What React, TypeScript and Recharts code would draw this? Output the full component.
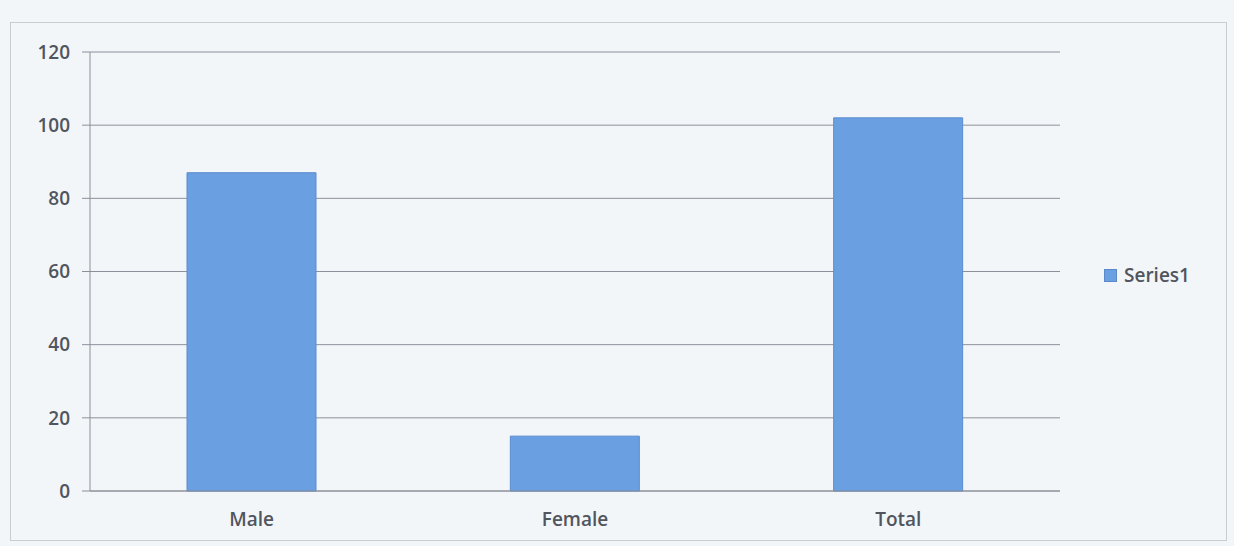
import { BarChart, Bar, XAxis, YAxis, CartesianGrid } from 'recharts';

const categories = ['Male', 'Female', 'Total'];
const series1 = [87, 15, 102];
const yTicks = [0, 20, 40, 60, 80, 100, 120];

const data = categories.map((name, i) => ({ name, Series1: series1[i] }));

const textColor = '#50555e';
const gridColor = '#8c9099';
const barColor = '#6a9fe2';
const font = '"Open Sans", sans-serif';

// legend drawn outside the chart so it doesn't shrink the plot area
const LegendBox = () => (
   <div
      style={{
         position: 'absolute',
         left: 1104,
         top: 262,
         display: 'flex',
         alignItems: 'center',
         fontFamily: font,
         fontSize: 19,
         fontWeight: 600,
         color: textColor
      }}>
      <span
         style={{
            display: 'inline-block',
            width: 11,
            height: 11,
            background: barColor,
            border: '1px solid #5a88c8',
            marginRight: 7
         }}
      />
      Series1
   </div>
);

const App = () => (
   <div
      style={{
         position: 'absolute',
         left: 0,
         top: 0,
         width: 1234,
         height: 546,
         background: '#f3f6f9'
      }}>
      <div
         style={{
            position: 'absolute',
            left: 10,
            top: 22,
            width: 1215,
            height: 517,
            border: '1px solid #c9cdd2'
         }}
      />
      <BarChart
         width={1234}
         height={546}
         data={data}
         margin={{ top: 52, right: 174, bottom: 15, left: 0 }}
         barCategoryGap="30%">
         <CartesianGrid vertical={false} stroke={gridColor} />
         <XAxis
            dataKey="name"
            height={40}
            axisLine={{ stroke: gridColor }}
            tickLine={false}
            tick={{ fill: textColor, fontSize: 19, fontWeight: 600, fontFamily: font }}
            tickMargin={16}
         />
         <YAxis
            width={90}
            domain={[0, 120]}
            ticks={yTicks}
            interval={0}
            axisLine={{ stroke: gridColor }}
            tickLine={{ stroke: gridColor }}
            tickSize={8}
            tick={{ fill: textColor, fontSize: 19, fontWeight: 600, fontFamily: font }}
            tickMargin={12}
         />
         <Bar
            dataKey="Series1"
            fill={barColor}
            stroke="#5a8bd0"
            strokeWidth={1}
            isAnimationActive={false}
         />
      </BarChart>
      <LegendBox />
   </div>
);

export default App;
